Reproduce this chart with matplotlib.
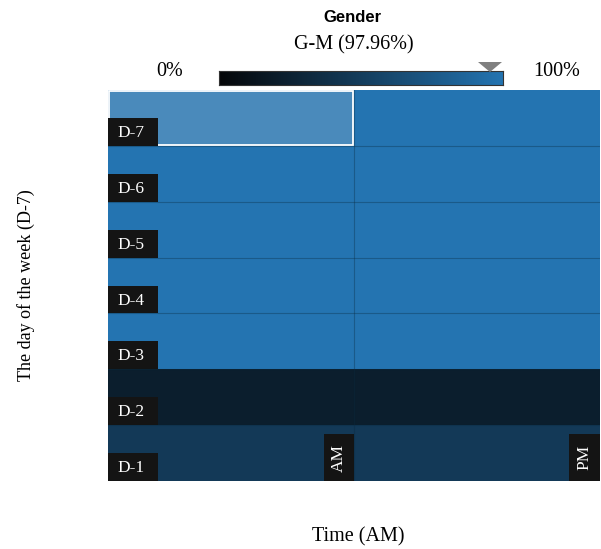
import numpy as np
import matplotlib
matplotlib.use("Agg")
from matplotlib import pyplot as plt
from matplotlib.colors import LinearSegmentedColormap
from matplotlib.patches import Rectangle, Polygon

days = ['D-7', 'D-6', 'D-5', 'D-4', 'D-3', 'D-2', 'D-1']
times = ['AM', 'PM']
# percent G-M per day (rows) and time (columns)
am_values = [97.96, 100, 100, 100, 100, 22, 47]
pm_values = [100, 100, 100, 100, 100, 22, 47]
selected = (0, 0)  # D-7, AM
selected_label = 'G-M (97.96%)'

serif = 'Liberation Serif'
cmap = LinearSegmentedColormap.from_list('gm', ['#050608', '#2474b1'])

grid = np.array([am_values, pm_values], dtype=float).T

fig = plt.figure(figsize=(6.01, 5.49), dpi=100)
ax = fig.add_axes([108 / 601, 1 - 481 / 549, 492 / 601, 391 / 549])
ax.imshow(grid, cmap=cmap, vmin=0, vmax=100, aspect='auto',
          extent=(0, len(times), len(days), 0), interpolation='nearest')

# faint cell borders
for i in range(1, len(days)):
    ax.axhline(i, color='#0a2a40', lw=0.8, alpha=0.35)
ax.axvline(1, color='#0a2a40', lw=0.8, alpha=0.35)

# hovered cell
r, c = selected
ax.add_patch(Rectangle((c, r), 1, 1, facecolor='white', alpha=0.18, edgecolor='none'))
ax.add_patch(Rectangle((c + 0.003, r + 0.01), 0.994, 0.98, facecolor='none',
                       edgecolor='white', lw=1.3))

# row labels
for i, d in enumerate(days):
    ax.add_patch(Rectangle((0, i + 0.5), 0.205, 0.5, facecolor='#141414', edgecolor='none'))
    ax.text(0.04, i + 0.77, d, color='white', fontsize=12.5, family=serif,
            ha='left', va='center')

# column labels
col_box_w = [0.122, 0.125]
for j, t in enumerate(times):
    w = col_box_w[j]
    ax.add_patch(Rectangle((j + 1 - w, len(days) - 0.84), w, 0.84,
                           facecolor='#141414', edgecolor='none'))
    ax.text(j + 1 - w / 2, len(days) - 0.42, t, color='white', fontsize=12.5,
            family=serif, rotation=90, ha='center', va='center')

ax.set_xlim(0, len(times))
ax.set_ylim(len(days), 0)
ax.set_xticks([])
ax.set_yticks([])
for s in ax.spines.values():
    s.set_visible(False)

# colour legend
cb_left, cb_w = 219 / 601, 284 / 601
cax = fig.add_axes([cb_left, 1 - 85 / 549, cb_w, 14 / 549])
cax.imshow(np.linspace(0, 100, 256)[None, :], cmap=cmap, aspect='auto',
           extent=(0, 100, 0, 1))
cax.set_xticks([])
cax.set_yticks([])
for s in cax.spines.values():
    s.set_color('#333333')
    s.set_linewidth(0.8)

sel_value = grid[selected]
tx = cb_left + cb_w * (sel_value / 100) - 0.012
hw, top, bot = 12 / 601, 1 - 62 / 549, 1 - 72 / 549
fig.add_artist(Polygon([(tx - hw, top), (tx + hw, top), (tx, bot)], closed=True,
                       facecolor='#808080', edgecolor='none',
                       transform=fig.transFigure))

fig.text(352 / 601, 1 - 18 / 549, 'Gender', fontsize=12, fontweight='bold',
         family='Liberation Sans', ha='center', va='center')
fig.text(354 / 601, 1 - 45 / 549, selected_label, fontsize=14.5, family=serif,
         ha='center', va='center')
fig.text(170 / 601, 1 - 72 / 549, '0%', fontsize=14.5, family=serif,
         ha='center', va='center')
fig.text(557 / 601, 1 - 72 / 549, '100%', fontsize=14.5, family=serif,
         ha='center', va='center')

fig.text(26 / 601, 1 - 285 / 549, 'The day of the week (D-7)', fontsize=13,
         family=serif, rotation=90, ha='center', va='center')
fig.text(358 / 601, 1 - 537 / 549, 'Time (AM)', fontsize=14.5, family=serif,
         ha='center', va='center')

fig.savefig('out.png', dpi=100)
